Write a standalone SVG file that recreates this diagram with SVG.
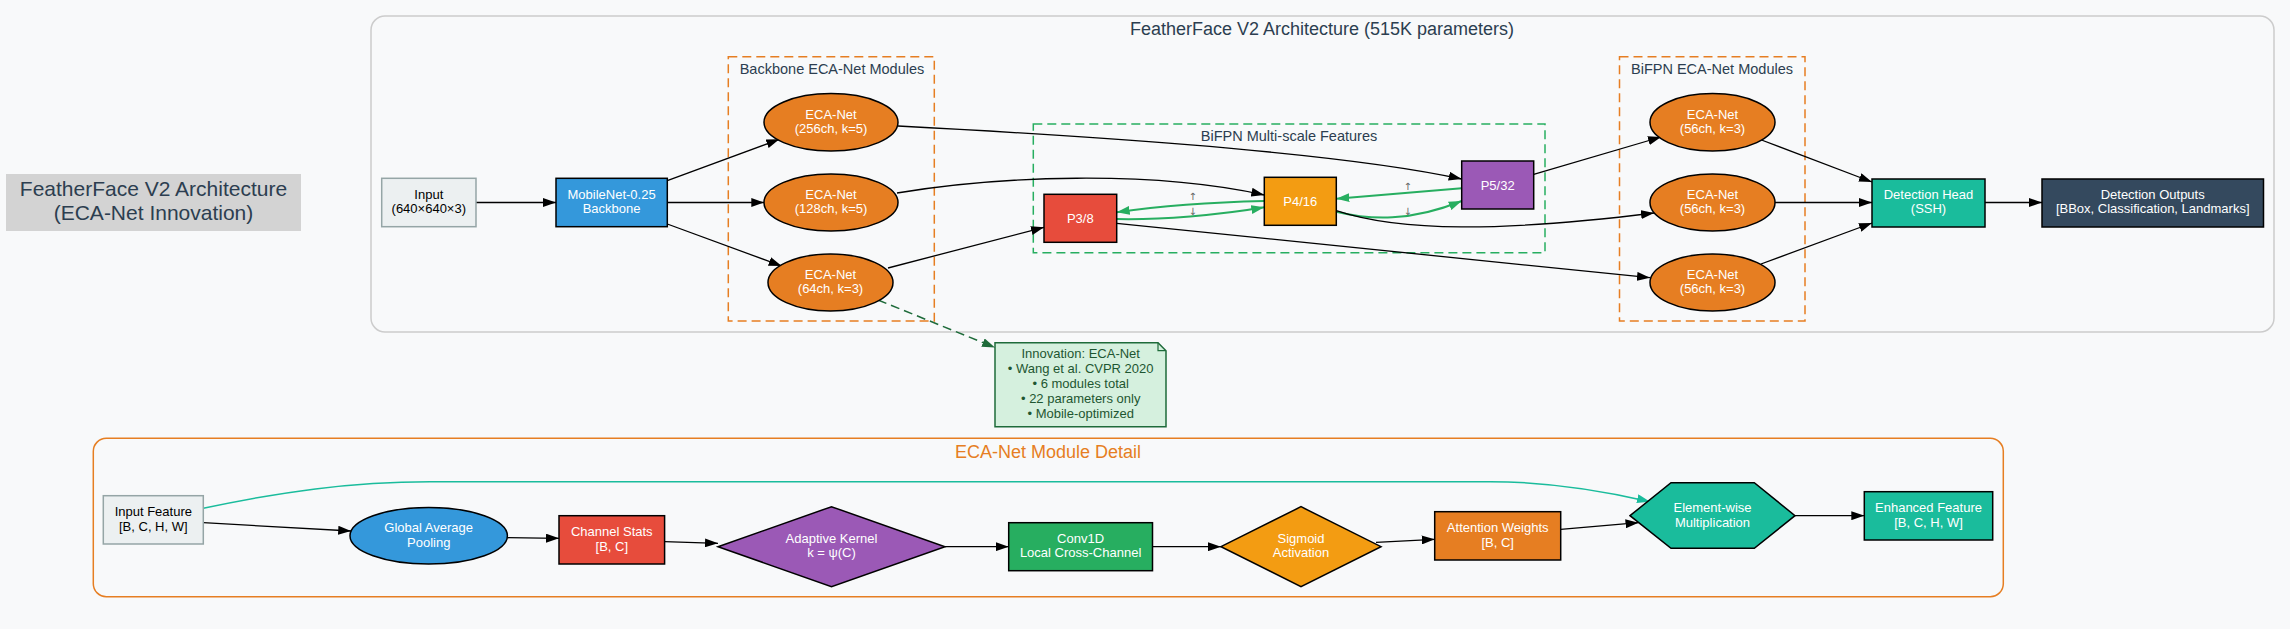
<svg xmlns="http://www.w3.org/2000/svg" width="2290" height="629" viewBox="0 0 2290 629">
<defs>
<style>
text{font-family:"Liberation Sans",Arial,sans-serif;}
.nt{font-size:13px;text-anchor:middle;fill:#ffffff;}
.nd{font-size:13px;text-anchor:middle;fill:#000000;}
.cl{font-size:14.5px;text-anchor:middle;fill:#2c3e50;}
.node{stroke:#000000;stroke-width:1.5;}
.e{fill:none;stroke:#000000;stroke-width:1.3;marker-end:url(#ab);}
.eg{fill:none;stroke:#27ae60;stroke-width:2;marker-end:url(#ag);}
.lbl{font-size:10px;text-anchor:middle;fill:#666666;font-family:"DejaVu Sans",sans-serif;}
</style>
<marker id="ab" markerUnits="userSpaceOnUse" markerWidth="13" markerHeight="9" viewBox="0 0 13 9" refX="13" refY="4.5" orient="auto"><path d="M0,0 L13,4.5 L0,9 z" fill="#000000"/></marker>
<marker id="ag" markerUnits="userSpaceOnUse" markerWidth="13" markerHeight="9" viewBox="0 0 13 9" refX="13" refY="4.5" orient="auto"><path d="M0,0 L13,4.5 L0,9 z" fill="#27ae60"/></marker>
<marker id="at" markerUnits="userSpaceOnUse" markerWidth="13" markerHeight="9" viewBox="0 0 13 9" refX="13" refY="4.5" orient="auto"><path d="M0,0 L13,4.5 L0,9 z" fill="#1abc9c"/></marker>
<marker id="ad" markerUnits="userSpaceOnUse" markerWidth="13" markerHeight="9" viewBox="0 0 13 9" refX="13" refY="4.5" orient="auto"><path d="M0,0 L13,4.5 L0,9 z" fill="#1e6b3a"/></marker>
</defs>
<rect x="0" y="0" width="2290" height="629" fill="#f8f9fa"/>

<g id="title">
<rect x="6" y="174" width="295" height="57" fill="#d3d3d3"/>
<text x="153.5" y="196" font-size="21px" text-anchor="middle" fill="#2c3e50">FeatherFace V2 Architecture</text>
<text x="153.5" y="220" font-size="21px" text-anchor="middle" fill="#2c3e50">(ECA-Net Innovation)</text>
</g>

<g id="cluster_main">
<rect x="371" y="16" width="1903" height="316" rx="14" fill="#f8f9fa" stroke="#cccccc" stroke-width="1.5"/>
<text x="1322" y="35" font-size="18px" text-anchor="middle" fill="#2c3e50">FeatherFace V2 Architecture (515K parameters)</text>
</g>
<g id="cluster_backbone">
<rect x="728.3" y="56.7" width="206" height="264.3" fill="none" stroke="#e67e22" stroke-width="1.5" stroke-dasharray="9,5"/>
<text class="cl" x="832" y="74">Backbone ECA-Net Modules</text>
</g>
<g id="cluster_bifpn">
<rect x="1033.3" y="124" width="511.7" height="128.7" fill="none" stroke="#27ae60" stroke-width="1.5" stroke-dasharray="9,5"/>
<text class="cl" x="1289" y="140.7">BiFPN Multi-scale Features</text>
</g>
<g id="cluster_bifpn_eca">
<rect x="1619.5" y="56.7" width="185.5" height="264.3" fill="none" stroke="#e67e22" stroke-width="1.5" stroke-dasharray="9,5"/>
<text class="cl" x="1712" y="74">BiFPN ECA-Net Modules</text>
</g>
<g id="cluster_detail">
<rect x="93.3" y="438.3" width="1910" height="158.4" rx="13" fill="#f8f9fa" stroke="#e67e22" stroke-width="1.5"/>
<text x="1048" y="458" font-size="18px" text-anchor="middle" fill="#e67e22">ECA-Net Module Detail</text>
</g>

<g id="connectors">
<path class="e" d="M476,202.5 L556,202.5"/>
<path class="e" d="M667.3,180.7 L779.3,139.3"/>
<path class="e" d="M667.3,202.5 L764.3,202.5"/>
<path class="e" d="M667.3,224 L781.7,266"/>
<path class="e" d="M898,126 C1050,134 1330,150 1461.7,179"/>
<path class="e" d="M897,193 C1000,176 1150,170 1264.3,195"/>
<path class="e" d="M888,268 L1044,227.3"/>
<path class="eg" d="M1264.3,201 C1220,202 1160,206 1116.7,212.3"/>
<path class="eg" d="M1116.7,219 C1160,220 1220,215 1264.3,207.3"/>
<path class="eg" d="M1461.7,188.3 L1336.3,198.7"/>
<path class="eg" d="M1336.3,211.7 C1370,220 1410,222 1461.7,201"/>
<text class="lbl" x="1192.7" y="199.5">↑</text>
<text class="lbl" x="1192.7" y="214.5">↓</text>
<text class="lbl" x="1407.7" y="189.5">↑</text>
<text class="lbl" x="1407.7" y="214.5">↓</text>
<path class="e" d="M1336.3,210.7 C1400,232 1500,232 1654,213"/>
<path class="e" d="M1116.7,223.3 L1650,277.7"/>
<path class="e" d="M1533.7,174.3 L1661,137"/>
<path class="e" d="M1761.5,140 L1872,182"/>
<path class="e" d="M1775,202.5 L1872,202.5"/>
<path class="e" d="M1761,264 L1872,223"/>
<path class="e" d="M1985,202.5 L2042,202.5"/>
<path d="M878,300 L995,347.5" fill="none" stroke="#1e6b3a" stroke-width="1.5" stroke-dasharray="9,5" marker-end="url(#ad)"/>
<path class="e" d="M203.3,522.7 L351.2,531"/>
<path class="e" d="M507.3,537.7 L559,538.3"/>
<path class="e" d="M664.6,541.7 L718,543.3"/>
<path class="e" d="M945,546.7 L1008.7,546.7"/>
<path class="e" d="M1152.5,546.7 L1221,546.7"/>
<path class="e" d="M1376,542.3 L1434.7,539.3"/>
<path class="e" d="M1560.7,529.3 L1638.5,522.7"/>
<path class="e" d="M1795,515.7 L1864.3,515.7"/>
<path d="M203.3,508.3 C280,492 350,481.7 430,481.7 L1490,481.7 C1550,481.7 1600,490 1650,501.7" fill="none" stroke="#1abc9c" stroke-width="1.5" marker-end="url(#at)"/>
</g>

<g id="input">
<rect x="381.7" y="178.3" width="94.3" height="48.4" fill="#ecf0f1" stroke="#95a5a6" stroke-width="1.5"/>
<text class="nd" x="428.8" y="199">Input</text>
<text class="nd" x="428.8" y="213">(640×640×3)</text>
</g>
<g id="backbone">
<rect class="node" x="556" y="178.3" width="111.3" height="48.4" fill="#3498db"/>
<text class="nt" x="611.6" y="199">MobileNet-0.25</text>
<text class="nt" x="611.6" y="213">Backbone</text>
</g>
<g id="eca_b1">
<ellipse class="node" cx="831" cy="122.3" rx="67" ry="28.7" fill="#e67e22"/>
<text class="nt" x="831" y="118.5">ECA-Net</text>
<text class="nt" x="831" y="133">(256ch, k=5)</text>
</g>
<g id="eca_b2">
<ellipse class="node" cx="831" cy="202.5" rx="67" ry="28.5" fill="#e67e22"/>
<text class="nt" x="831" y="198.5">ECA-Net</text>
<text class="nt" x="831" y="213">(128ch, k=5)</text>
</g>
<g id="eca_b3">
<ellipse class="node" cx="830.5" cy="282.5" rx="62.5" ry="28.5" fill="#e67e22"/>
<text class="nt" x="830.5" y="278.5">ECA-Net</text>
<text class="nt" x="830.5" y="293">(64ch, k=3)</text>
</g>
<g id="p3">
<rect class="node" x="1044" y="194.3" width="72.7" height="48" fill="#e74c3c"/>
<text class="nt" x="1080.3" y="223">P3/8</text>
</g>
<g id="p4">
<rect class="node" x="1264.3" y="177.3" width="72" height="48" fill="#f39c12"/>
<text class="nt" x="1300.3" y="206">P4/16</text>
</g>
<g id="p5">
<rect class="node" x="1461.7" y="161" width="72" height="48" fill="#9b59b6"/>
<text class="nt" x="1497.7" y="189.7">P5/32</text>
</g>
<g id="eca_f1">
<ellipse class="node" cx="1712.5" cy="122.3" rx="62.5" ry="28.7" fill="#e67e22"/>
<text class="nt" x="1712.5" y="118.5">ECA-Net</text>
<text class="nt" x="1712.5" y="133">(56ch, k=3)</text>
</g>
<g id="eca_f2">
<ellipse class="node" cx="1712.5" cy="202.5" rx="62.5" ry="28.5" fill="#e67e22"/>
<text class="nt" x="1712.5" y="198.5">ECA-Net</text>
<text class="nt" x="1712.5" y="213">(56ch, k=3)</text>
</g>
<g id="eca_f3">
<ellipse class="node" cx="1712.5" cy="282.5" rx="62.5" ry="28.5" fill="#e67e22"/>
<text class="nt" x="1712.5" y="278.5">ECA-Net</text>
<text class="nt" x="1712.5" y="293">(56ch, k=3)</text>
</g>
<g id="det_head">
<rect class="node" x="1872" y="179" width="113" height="48" fill="#1abc9c"/>
<text class="nt" x="1928.5" y="199">Detection Head</text>
<text class="nt" x="1928.5" y="213">(SSH)</text>
</g>
<g id="det_out">
<rect class="node" x="2042" y="179" width="221.5" height="48" fill="#34495e"/>
<text class="nt" x="2152.7" y="199">Detection Outputs</text>
<text class="nt" x="2152.7" y="213">[BBox, Classification, Landmarks]</text>
</g>
<g id="note">
<path d="M995,342.7 L1158,342.7 L1166,350.7 L1166,426.7 L995,426.7 Z" fill="#d5f0de" stroke="#1e6b3a" stroke-width="1.5"/>
<path d="M1158,342.7 L1158,350.7 L1166,350.7" fill="none" stroke="#1e6b3a" stroke-width="1.2"/>
<text x="1080.7" y="358.3" font-size="13px" text-anchor="middle" fill="#1e5631">Innovation: ECA-Net</text>
<text x="1080.7" y="373.3" font-size="13px" text-anchor="middle" fill="#1e5631">• Wang et al. CVPR 2020</text>
<text x="1080.7" y="388.3" font-size="13px" text-anchor="middle" fill="#1e5631">• 6 modules total</text>
<text x="1080.7" y="402.7" font-size="13px" text-anchor="middle" fill="#1e5631">• 22 parameters only</text>
<text x="1080.7" y="417.7" font-size="13px" text-anchor="middle" fill="#1e5631">• Mobile-optimized</text>
</g>

<g id="input_feature">
<rect x="103.3" y="495.7" width="100" height="48.3" fill="#ecf0f1" stroke="#95a5a6" stroke-width="1.5"/>
<text class="nd" x="153.3" y="516">Input Feature</text>
<text class="nd" x="153.3" y="531">[B, C, H, W]</text>
</g>
<g id="gap">
<ellipse class="node" cx="428.7" cy="535.7" rx="78.7" ry="28.3" fill="#3498db"/>
<text class="nt" x="428.7" y="532">Global Average</text>
<text class="nt" x="428.7" y="547">Pooling</text>
</g>
<g id="channel_stats">
<rect class="node" x="559" y="515.7" width="105.6" height="48.3" fill="#e74c3c"/>
<text class="nt" x="611.8" y="536">Channel Stats</text>
<text class="nt" x="611.8" y="551">[B, C]</text>
</g>
<g id="adaptive_kernel">
<polygon class="node" points="718,546.7 831.5,506.7 945,546.7 831.5,586.7" fill="#9b59b6"/>
<text class="nt" x="831.5" y="543">Adaptive Kernel</text>
<text class="nt" x="831.5" y="557">k = ψ(C)</text>
</g>
<g id="conv1d">
<rect class="node" x="1008.7" y="522.7" width="143.8" height="48" fill="#27ae60"/>
<text class="nt" x="1080.6" y="543">Conv1D</text>
<text class="nt" x="1080.6" y="557">Local Cross-Channel</text>
</g>
<g id="sigmoid">
<polygon class="node" points="1221,546.7 1301,506.7 1381,546.7 1301,586.7" fill="#f39c12"/>
<text class="nt" x="1301" y="543">Sigmoid</text>
<text class="nt" x="1301" y="557">Activation</text>
</g>
<g id="attention">
<rect class="node" x="1434.7" y="511.7" width="126" height="48.3" fill="#e67e22"/>
<text class="nt" x="1497.7" y="532">Attention Weights</text>
<text class="nt" x="1497.7" y="547">[B, C]</text>
</g>
<g id="elementwise">
<polygon class="node" points="1630,515.7 1671,482.7 1754.3,482.7 1795,515.7 1754.3,548.3 1671,548.3" fill="#1abc9c"/>
<text class="nt" x="1712.5" y="511.7">Element-wise</text>
<text class="nt" x="1712.5" y="526.5">Multiplication</text>
</g>
<g id="enhanced">
<rect class="node" x="1864.3" y="491.7" width="128.4" height="48.3" fill="#1abc9c"/>
<text class="nt" x="1928.5" y="512">Enhanced Feature</text>
<text class="nt" x="1928.5" y="527">[B, C, H, W]</text>
</g>
</svg>
